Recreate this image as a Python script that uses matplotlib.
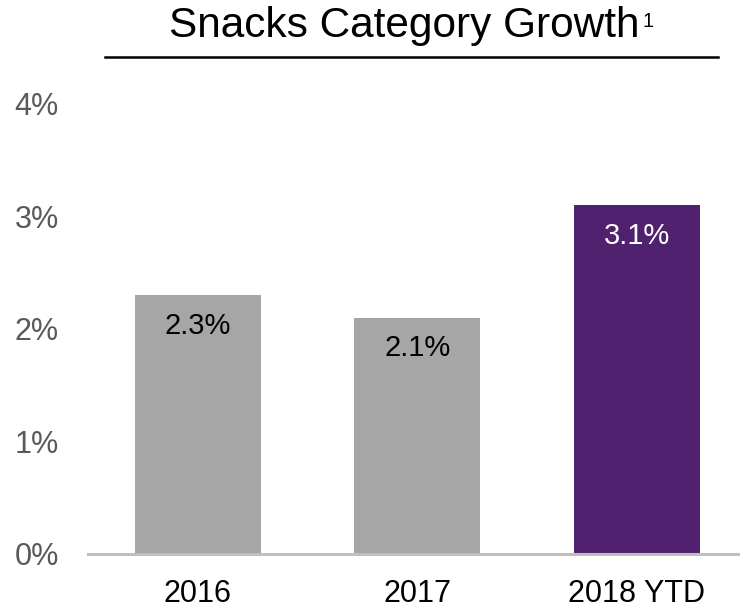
import matplotlib.pyplot as plt
from matplotlib.lines import Line2D

categories = ['2016', '2017', '2018 YTD']
growth = [2.3, 2.1, 3.1]
bar_colors = ['#A6A6A6', '#A6A6A6', '#4F216E']
label_colors = ['black', 'black', 'white']
yticks = [0, 1, 2, 3, 4]
ytick_labels = ['0%', '1%', '2%', '3%', '4%']

plt.rcParams['font.family'] = ['Liberation Sans', 'DejaVu Sans']

fig = plt.figure(figsize=(7.4, 6.07), dpi=100)
ax = fig.add_axes([0.1189, 0.0881, 0.8811, 0.7406])

x = range(len(categories))
ax.bar(x, growth, width=0.574, color=bar_colors, zorder=2)

for i, v in enumerate(growth):
    ax.annotate(f'{v:.1f}%', xy=(i, v), xytext=(0, -28), textcoords='offset points',
                ha='center', va='baseline', fontsize=21, color=label_colors[i])

ax.set_xlim(-0.5, 2.47)
ax.set_ylim(0, 4)
ax.set_xticks(list(x))
ax.set_xticklabels(categories, fontsize=22, color='black')
ax.set_yticks(yticks)
ax.set_yticklabels(ytick_labels, fontsize=22, color='#595959')
ax.tick_params(axis='x', length=0, pad=18)
ax.tick_params(axis='y', length=0, pad=21)

for s in ['top', 'right', 'left']:
    ax.spines[s].set_visible(False)
ax.spines['bottom'].set_color('#BFBFBF')
ax.spines['bottom'].set_linewidth(2.2)
ax.spines['bottom'].set_zorder(3)

# title with a superscript footnote marker and a rule underneath
fig.text(169 / 740, 1 - 37 / 607, 'Snacks Category Growth', fontsize=30.5,
         ha='left', va='baseline', color='black')
fig.text(643 / 740, 1 - 27 / 607, '1', fontsize=14.5,
         ha='left', va='baseline', color='black')
fig.add_artist(Line2D([105 / 740, 718 / 740], [1 - 57 / 607, 1 - 57 / 607],
                      color='black', linewidth=1.8))

fig.savefig('out.png', dpi=100)
